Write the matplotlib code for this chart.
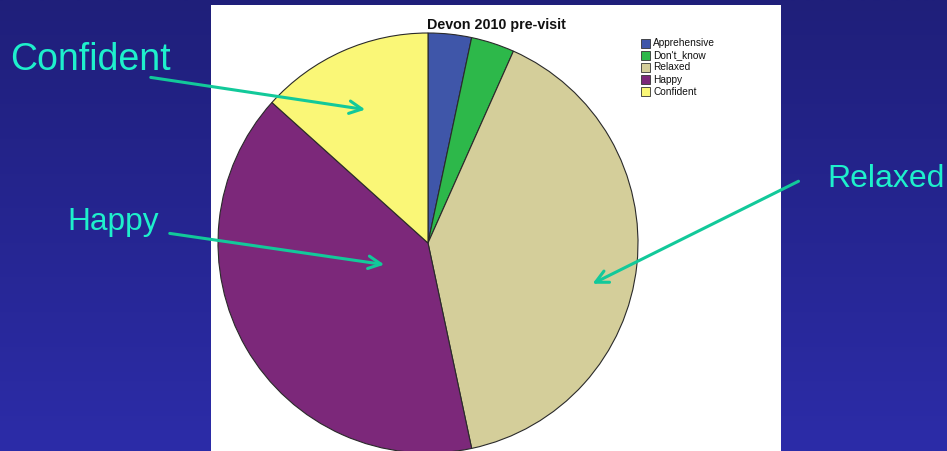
import matplotlib
matplotlib.use("Agg")
import matplotlib.pyplot as plt
import numpy as np
from matplotlib.patches import Rectangle

categories = ["Apprehensive", "Don't_know", "Relaxed", "Happy", "Confident"]
counts = [1, 1, 12, 12, 4]
colors = ["#3f56a9", "#2db84a", "#d4ce9a", "#7c287a", "#faf777"]
title = "Devon 2010 pre-visit"

W, H = 947, 451
fig = plt.figure(figsize=(W/100, H/100), dpi=100)

# background gradient
bg = fig.add_axes([0, 0, 1, 1])
grad = np.linspace(0, 1, 256).reshape(-1, 1)
top = np.array([31, 31, 122]) / 255
bot = np.array([44, 44, 168]) / 255
img = top + (bot - top) * grad[:, :, None] * np.ones((1, 1, 3))
img = img.reshape(256, 1, 3)
bg.imshow(img, aspect="auto", extent=[0, W, H, 0])
bg.set_xlim(0, W)
bg.set_ylim(H, 0)
bg.axis("off")
bg.add_patch(Rectangle((211, 5), 570, 450, facecolor="white", edgecolor="none"))

# pie
cx, cy, r = 428, 243, 210
ax = fig.add_axes([(cx - r) / W, (H - cy - r) / H, 2 * r / W, 2 * r / H])
ax.pie(counts, colors=colors, startangle=90, counterclock=False, radius=1,
       wedgeprops=dict(edgecolor="#2a2a2a", linewidth=0.8))
ax.set_xlim(-1, 1)
ax.set_ylim(-1, 1)
ax.set_aspect("equal")
ax.axis("off")

fig.text(496 / W, 1 - 25 / H, title, ha="center", va="center",
         fontsize=10.3, fontweight="bold", family="Liberation Sans", color="#111111")

# legend
ov = fig.add_axes([0, 0, 1, 1], facecolor="none")
ov.set_xlim(0, W)
ov.set_ylim(H, 0)
ov.axis("off")
for i, (c, col) in enumerate(zip(categories, colors)):
    y = 43 + i * 12.2
    ov.add_patch(Rectangle((641, y - 4.5), 9, 9, facecolor=col, edgecolor="#333333", linewidth=0.6))
    ov.text(653, y, c, fontsize=7.3, va="center", ha="left", family="Liberation Sans", color="#111111")

txtcol = "#1ef0cc"
arrcol = "#12c99a"
ov.text(90, 60, "Confident", fontsize=27, ha="center", va="center", color=txtcol, family="Liberation Sans")
ov.text(113, 222, "Happy", fontsize=22.8, ha="center", va="center", color=txtcol, family="Liberation Sans")
ov.text(886, 179, "Relaxed", fontsize=23, ha="center", va="center", color=txtcol, family="Liberation Sans")

for (x0, y0, x1, y1) in [(148, 77, 368, 110), (167, 233, 387, 265), (801, 180, 590, 285)]:
    ov.annotate("", xy=(x1, y1), xytext=(x0, y0),
                arrowprops=dict(arrowstyle="->,head_length=0.9,head_width=0.45", color=arrcol, lw=2.2))

fig.savefig("out.png", dpi=100)
